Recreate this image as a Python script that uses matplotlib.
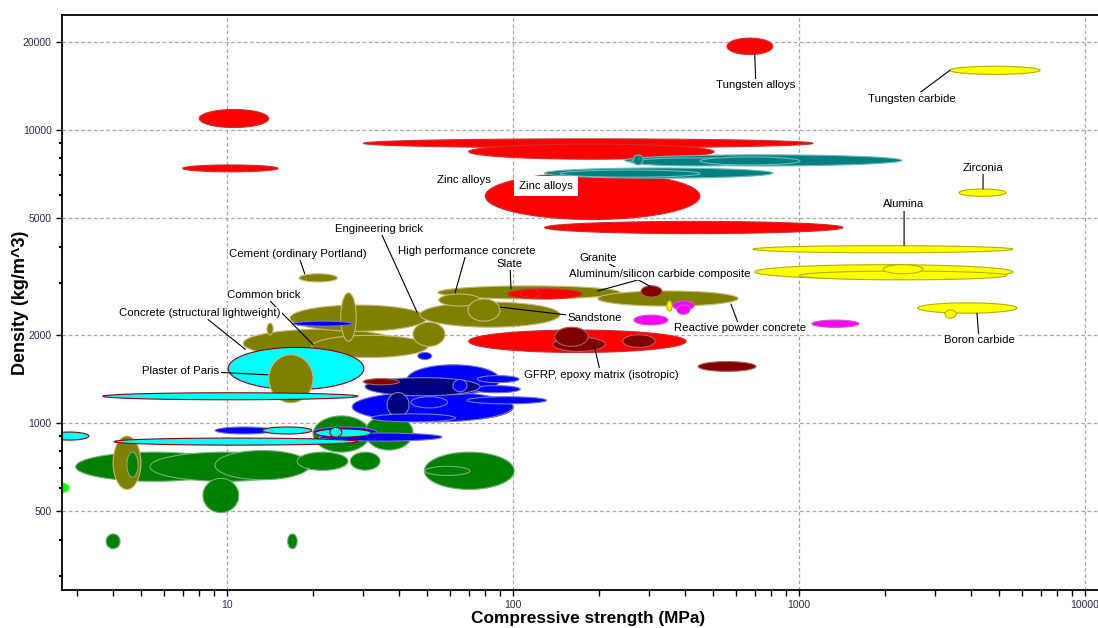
import numpy as np
import matplotlib.pyplot as plt
from matplotlib.ticker import FixedLocator, FixedFormatter, NullFormatter

plt.rcParams['font.family'] = ['Liberation Sans', 'DejaVu Sans']

# property ranges: (strength lo, strength hi, density lo, density hi)
green = [
    (2.96, 10.5, 632, 795),
    (5.38, 18.0, 632, 795),
    (9.08, 19.5, 640, 805),
    (17.6, 26.5, 689, 795),
    (27.0, 34.3, 690, 795),
    (49.0, 101, 593, 795),
    (49.2, 70.7, 662, 711),
    (20.0, 31.6, 795, 1057),
    (30.4, 44.7, 808, 1065),
    (8.24, 11.0, 494, 647),
    (3.78, 4.23, 372, 418),
    (16.3, 17.6, 372, 418),
]
lime = [(2.5, 2.8, 580, 622)]
olive_back = [
    (11.4, 40.3, 1673, 2089),
    (19.8, 50.4, 1673, 1991),
    (16.6, 50.0, 2056, 2526),
    (47.3, 146, 2123, 2587),
    (54.7, 237, 2650, 2937),
    (55.0, 76.7, 2506, 2756),
    (69.6, 90.0, 2226, 2650),
    (44.7, 57.8, 1826, 2208),
    (198, 612, 2506, 2822),
    (25.0, 28.3, 1900, 2780),
    (13.8, 14.5, 2000, 2190),
    (17.9, 24.3, 3030, 3230),
]
cyan_back = [
    (10.1, 30.1, 1300, 1811),
    (2.4, 3.29, 874, 931),
    (40.3, 100, 1024, 1250),
]
olive_front = [
    (14.0, 20.0, 1172, 1710),
    (4.0, 5.0, 593, 902),
]
green_front = [(4.47, 4.89, 652, 795)]
blue_back = [
    (27.4, 100, 1008, 1278),
    (42.6, 90.0, 1250, 1580),
    (69.0, 131, 1162, 1229),
    (75.0, 105, 1373, 1451),
    (72.0, 106, 1268, 1341),
    (46.5, 52.0, 1647, 1741),
    (17.0, 27.6, 2140, 2226),
    (9.1, 14.5, 917, 969),
    (20.0, 33.4, 895, 969),
    (21.0, 56.5, 867, 924),
]
navy = [
    (30.4, 76.7, 1238, 1428),
    (36.3, 43.3, 1050, 1270),
]
blue_front = [
    (61.7, 69.0, 1278, 1406),
    (44.0, 59.0, 1126, 1229),
    (32.0, 63.0, 1008, 1074),
]
cyan_front = [
    (3.68, 28.7, 1200, 1268),
    (4.03, 28.7, 840, 888),
    (13.3, 19.8, 917, 969),
    (20.3, 32.0, 895, 954),
    (22.9, 25.2, 895, 965),
]
red = [
    (30, 1120, 8700, 9330),
    (70, 505, 7950, 8950),
    (80, 450, 4950, 7150),
    (129, 1425, 4430, 4875),
    (70, 403, 1740, 2075),
    (96, 174, 2650, 2870),
    (106, 125, 2680, 2860),
    (560, 810, 18100, 20600),
    (8.0, 14.0, 10200, 11750),
    (7.0, 15.1, 7200, 7600),
]
maroon = [
    (280, 332, 2690, 2940),
    (138, 210, 1755, 1961),
    (140, 183, 1826, 2123),
    (242, 314, 1811, 2000),
    (444, 707, 1500, 1620),
    (30, 40, 1350, 1417),
]
teal = [
    (246, 2290, 7540, 8230),
    (129, 811, 6850, 7420),
    (257, 731, 7540, 8030),
    (451, 1008, 7600, 8090),
    (146, 451, 6905, 7300),
    (263, 285, 7600, 8225),
]
yellow = [
    (3370, 6970, 15490, 16510),
    (3625, 5295, 5940, 6290),
    (690, 5600, 3810, 4030),
    (700, 5600, 3100, 3470),
    (1000, 5330, 3080, 3300),
    (1970, 2715, 3230, 3470),
    (2600, 5780, 2370, 2570),
    (3240, 3540, 2280, 2430),
    (345, 360, 2410, 2610),
]
magenta = [
    (362, 430, 2430, 2610),
    (374, 416, 2350, 2530),
    (265, 348, 2160, 2335),
    (1110, 1620, 2120, 2245),
]

label_names = ["Tungsten alloys", "Tungsten carbide", "Zirconia", "Alumina",
               "Boron carbide", "Reactive powder concrete",
               "GFRP, epoxy matrix (isotropic)", "Sandstone", "Granite",
               "Aluminum/silicon carbide composite", "Engineering brick",
               "High performance concrete", "Slate", "Cement (ordinary Portland)",
               "Common brick", "Concrete (structural lightweight)",
               "Plaster of Paris"]
label_pos = [(707, 14200), (2483, 12810), (4400, 7420), (2330, 5580),
             (4260, 1915), (622, 2105), (203, 1460), (193, 2279), (198, 3666),
             (327, 3229), (34.0, 4610), (69.0, 3874), (97.6, 3496),
             (17.7, 3784), (13.5, 2734), (8.05, 2371), (6.9, 1510)]
label_tip = [(700, 18150), (3373, 16000), (4400, 6290), (2330, 4030),
             (4190, 2371), (578, 2546), (193, 1811), (90.1, 2486), (304, 2913),
             (198, 2822), (46.2, 2390), (62.7, 2778), (98.4, 2870),
             (18.7, 3229), (20.0, 1850), (11.6, 1783), (13.9, 1460)]

t = np.linspace(0, 2 * np.pi, 160)


def blob(ax, r, fc, ec, lw=0.8):
    lx = np.log10(r[:2])
    ly = np.log10(r[2:])
    xs = 10 ** (lx.mean() + (lx[1] - lx[0]) / 2 * np.cos(t))
    ys = 10 ** (ly.mean() + (ly[1] - ly[0]) / 2 * np.sin(t))
    ax.fill(xs, ys, facecolor=fc, edgecolor=ec, linewidth=lw)


fig = plt.figure(figsize=(10.98, 6.28), dpi=100)
ax = fig.add_axes([62 / 1098, 1 - 590 / 628, 1036 / 1098, 575 / 628])
ax.set_xscale('log')
ax.set_yscale('log')

layers = [
    (green, '#008000', '#78b078'),
    (lime, '#00ff00', '#00ff00'),
    (olive_back, '#808000', '#c8b878'),
    (cyan_back, '#00ffff', '#900000'),
    (olive_front, '#808000', '#c8b878'),
    (green_front, '#008000', '#78b078'),
    (blue_back, '#0000ff', '#7878c8'),
    (navy, '#000080', '#8080c0'),
    (blue_front, '#0000ff', '#7878c8'),
    (cyan_front, '#00ffff', '#900000'),
    (red, '#ff0000', '#c83030'),
    (maroon, '#800000', '#b06060'),
    (teal, '#008080', '#70b8b8'),
    (yellow, '#ffff00', '#b0b000'),
    (magenta, '#ff00ff', '#c060c0'),
]
for group, fc, ec in layers:
    for r in group:
        blob(ax, r, fc, ec)

fs = 8.2
box = dict(boxstyle='square,pad=0.12', fc='white', ec='none')
line = dict(arrowstyle='-', color='black', lw=0.8, shrinkA=0, shrinkB=0)
for name, pos, tip in zip(label_names, label_pos, label_tip):
    ax.annotate(name, xy=tip, xytext=pos, ha='center', va='center',
                fontsize=fs, bbox=box, arrowprops=line)
ax.text(67.4, 6745, "Zinc alloys", ha='center', va='center', fontsize=fs,
        bbox=box, zorder=4)
ax.text(130.4, 6430, "Zinc alloys", ha='center', va='center', fontsize=fs,
        bbox=dict(boxstyle='square,pad=0.45', fc='white', ec='none'), zorder=4)

ax.set_xlim(2.65, 11100)
ax.set_ylim(269, 24700)

xmaj = [10, 100, 1000, 10000]
ax.xaxis.set_major_locator(FixedLocator(xmaj))
ax.xaxis.set_major_formatter(FixedFormatter([str(v) for v in xmaj]))
xmin = [m * 10 ** d for d in range(0, 4) for m in range(2, 10)]
ax.xaxis.set_minor_locator(FixedLocator(xmin))
ax.xaxis.set_minor_formatter(NullFormatter())

ymaj = [500, 1000, 2000, 5000, 10000, 20000]
ax.yaxis.set_major_locator(FixedLocator(ymaj))
ax.yaxis.set_major_formatter(FixedFormatter([str(v) for v in ymaj]))
ymin = [m * 10 ** d for d in range(2, 5) for m in range(2, 10)
        if m * 10 ** d not in ymaj]
ax.yaxis.set_minor_locator(FixedLocator(ymin))
ax.yaxis.set_minor_formatter(NullFormatter())

ax.tick_params(which='major', direction='out', length=4, width=1,
               labelsize=7.5, labelcolor='#2a2a48')
ax.tick_params(axis='x', which='minor', direction='out', length=4, width=1)
ax.tick_params(axis='y', which='minor', direction='out', length=2, width=1.5)
ax.tick_params(axis='x', pad=3)

ax.set_axisbelow(True)
ax.grid(True, which='major', color='#a8a8a8', linestyle=(0, (3, 2)), lw=0.9)
for s in ['left', 'top', 'bottom']:
    ax.spines[s].set_linewidth(1.3)
ax.spines['right'].set_visible(False)

fig.text(588 / 1098, 1 - 619 / 628, "Compressive strength (MPa)", fontsize=12.4,
         fontweight='bold', ha='center', va='center')
fig.text(21 / 1098, 1 - 303 / 628, "Density (kg/m^3)", fontsize=13,
         fontweight='bold', ha='center', va='center', rotation=90)

fig.savefig('out.png', dpi=100)
